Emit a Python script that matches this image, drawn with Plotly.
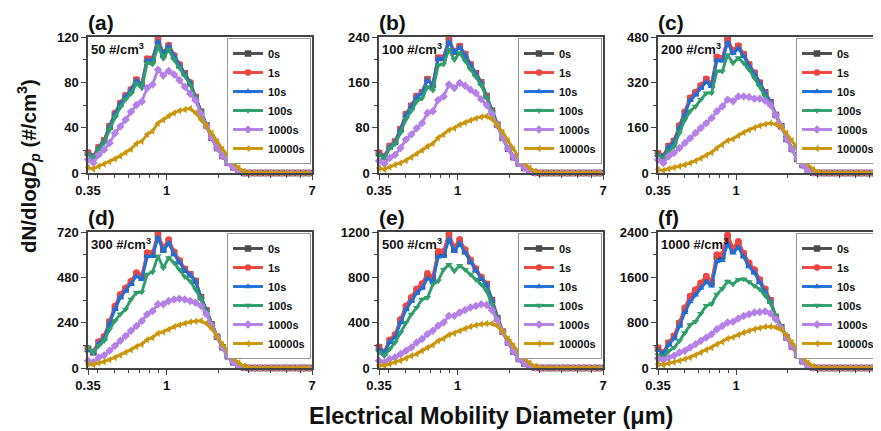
import math
import plotly.graph_objects as go

# ---------------- data ----------------
dp = [0.350, 0.376, 0.404, 0.434, 0.467, 0.502, 0.539, 0.579, 0.622, 0.669, 0.719, 0.772, 0.830, 0.892,
      0.958, 1.030, 1.107, 1.189, 1.278, 1.373, 1.476, 1.586, 1.704, 1.831, 1.968, 2.115, 2.273, 2.442,
      2.625, 2.820, 3.031, 3.257, 3.500, 3.761, 4.042, 4.343, 4.667, 5.015, 5.390, 5.792, 6.224, 6.688]

times = ["0s", "1s", "10s", "100s", "1000s", "10000s"]
panel_labels = ["(a)", "(b)", "(c)", "(d)", "(e)", "(f)"]
conc_labels = ["50 #/cm<sup>3</sup>", "100 #/cm<sup>3</sup>", "200 #/cm<sup>3</sup>",
               "300 #/cm<sup>3</sup>", "500 #/cm<sup>3</sup>", "1000 #/cm<sup>3</sup>"]
y_ticks = [[0, 40, 80, 120], [0, 80, 160, 240], [0, 160, 320, 480],
           [0, 240, 480, 720], [0, 400, 800, 1200], [0, 800, 1600, 2400]]
x_ticks = [0.35, 1, 7]
x_tick_text = ["0.35", "1", "7"]
x_minor = [0.4, 0.5, 0.6, 0.7, 0.8, 0.9, 2, 3, 4, 5, 6]

# panel (a) 50 #/cm3
a_0s = [17.6, 14.5, 22.5, 28.5, 41, 52, 61, 68, 73, 82, 78, 100, 100, 117,
        105, 112, 103, 95, 88, 79, 67, 54, 42, 31, 22, 15, 9, 5,
        1.5, 0, 0, 0, 0, 0, 0, 0, 0, 0, 0, 0, 0, 0]
a_1s = [18, 14.8, 23, 29, 41.5, 53, 62, 68.5, 74, 82.5, 78.5, 101, 101, 118,
        106, 113, 104, 96, 88, 80, 67, 54, 42, 31, 22, 15, 9, 5,
        1.5, 0, 0, 0, 0, 0, 0, 0, 0, 0, 0, 0, 0, 0]
a_10s = [17, 14, 22, 28, 40.5, 52, 61, 67.5, 73, 81.5, 78, 99.5, 100, 116,
         105, 112, 103, 95, 87.5, 79.5, 66.5, 54, 42, 31, 22, 15, 9, 5,
         1.5, 0, 0, 0, 0, 0, 0, 0, 0, 0, 0, 0, 0, 0]
a_100s = [16, 13.5, 21, 26.5, 38, 49, 58, 65, 70, 79, 75, 97, 96, 112,
          101, 109, 100, 93, 86, 78, 66, 54, 42, 31, 22, 15, 9, 5,
          1.5, 0, 0, 0, 0, 0, 0, 0, 0, 0, 0, 0, 0, 0]
a_1000s = [12, 9, 16, 20.5, 26.5, 35, 41, 47, 54, 60, 63, 75, 78, 91,
           86, 90, 87, 82, 76, 70, 64, 52, 41, 31, 22, 15, 9, 5,
           1.5, 0, 0, 0, 0, 0, 0, 0, 0, 0, 0, 0, 0, 0]
a_10000s = [5, 3.5, 6, 8, 10, 12.5, 15, 18, 21, 26, 28, 34, 37, 44,
            47, 50.5, 53, 55, 56, 57, 53, 47, 42, 35, 28, 21, 15, 9,
            4.5, 1.5, 0, 0, 0, 0, 0, 0, 0, 0, 0, 0, 0, 0]

# panel (b) 100 #/cm3
b_0s = [35, 29, 47, 55, 77, 103, 118, 135, 142, 165, 156, 203, 203, 234,
        214, 223, 209, 191, 176, 160, 136, 110, 85, 62, 43, 28, 17, 9,
        3, 0.5, 0, 0, 0, 0, 0, 0, 0, 0, 0, 0, 0, 0]
b_1s = [36, 30, 48, 56, 78, 104, 119, 136, 143, 166, 157, 204, 204, 236,
        215, 224, 210, 192, 176, 160, 136, 110, 85, 62, 43, 28, 17, 9,
        3, 0.5, 0, 0, 0, 0, 0, 0, 0, 0, 0, 0, 0, 0]
b_10s = [34, 28, 46, 54, 76, 102, 117, 134, 141, 164, 155, 202, 202, 232,
         213, 222, 208, 190, 175, 159, 135, 110, 85, 62, 43, 28, 17, 9,
         3, 0.5, 0, 0, 0, 0, 0, 0, 0, 0, 0, 0, 0, 0]
b_100s = [32, 26, 44, 51, 71, 95, 110, 126, 132, 152, 146, 190, 192, 218,
          200, 212, 198, 183, 170, 155, 133, 108, 84, 62, 43, 28, 17, 9,
          3, 0.5, 0, 0, 0, 0, 0, 0, 0, 0, 0, 0, 0, 0]
b_1000s = [21, 16.5, 26.5, 32, 44, 59, 68, 79, 88, 106, 109, 129, 135, 156,
           150, 159, 154, 147, 141, 130, 120, 104, 84, 62, 43, 28, 17, 9,
           3, 0.5, 0, 0, 0, 0, 0, 0, 0, 0, 0, 0, 0, 0]
b_10000s = [9, 6, 10.5, 14.5, 17.5, 22, 28, 34, 40, 47, 52, 62, 68, 76,
            79, 85, 89, 93, 96.5, 99, 100, 95, 84, 72, 57, 42, 28, 17,
            9, 3, 0.5, 0, 0, 0, 0, 0, 0, 0, 0, 0, 0, 0]

# panel (c) 200 #/cm3
c_0s = [68, 59, 94, 112, 165, 212, 262, 282, 306, 329, 312, 406, 402, 468,
        429, 447, 418, 382, 353, 318, 285, 250, 205, 165, 120, 85, 50, 28,
        8, 1, 0, 0, 0, 0, 0, 0, 0, 0, 0, 0, 0, 0]
c_1s = [70, 61, 96, 115, 168, 216, 266, 286, 310, 333, 316, 410, 406, 472,
        433, 450, 420, 384, 354, 319, 285, 250, 205, 165, 120, 85, 50, 28,
        8, 1, 0, 0, 0, 0, 0, 0, 0, 0, 0, 0, 0, 0]
c_10s = [66, 57, 91, 109, 160, 206, 256, 276, 300, 322, 306, 398, 396, 460,
         422, 440, 412, 378, 350, 316, 284, 250, 205, 165, 120, 85, 50, 28,
         8, 1, 0, 0, 0, 0, 0, 0, 0, 0, 0, 0, 0, 0]
c_100s = [65, 53, 76, 94, 141, 188, 218, 235, 259, 282, 282, 359, 359, 417,
          388, 406, 388, 365, 335, 305, 270, 245, 205, 165, 120, 85, 50, 28,
          8, 1, 0, 0, 0, 0, 0, 0, 0, 0, 0, 0, 0, 0]
c_1000s = [47, 35, 59, 71, 88, 106, 123, 141, 159, 176, 194, 218, 235, 259,
           253, 270, 270, 268, 262, 262, 255, 240, 205, 165, 120, 85, 50, 28,
           8, 1, 0, 0, 0, 0, 0, 0, 0, 0, 0, 0, 0, 0]
c_10000s = [12, 9, 15, 19, 24, 29, 35, 43, 52, 63, 72, 88, 100, 115,
            120, 132, 143, 152, 160, 167, 172, 176, 172, 162, 140, 115, 88, 58,
            30, 12, 3, 0, 0, 0, 0, 0, 0, 0, 0, 0, 0, 0]

# panel (d) 300 #/cm3
d_0s = [100, 83, 135, 162, 241, 320, 381, 416, 451, 495, 478, 600, 600, 702,
        627, 671, 609, 565, 521, 495, 460, 375, 305, 230, 165, 110, 62, 30,
        10, 2, 0, 0, 0, 0, 0, 0, 0, 0, 0, 0, 0, 0]
d_1s = [104, 86, 140, 168, 248, 328, 390, 425, 460, 505, 488, 612, 610, 712,
        636, 680, 616, 570, 525, 498, 462, 375, 305, 230, 165, 110, 62, 30,
        10, 2, 0, 0, 0, 0, 0, 0, 0, 0, 0, 0, 0, 0]
d_10s = [96, 80, 130, 157, 234, 312, 372, 408, 443, 486, 470, 590, 592, 690,
         620, 662, 602, 560, 517, 492, 458, 374, 305, 230, 165, 110, 62, 30,
         10, 2, 0, 0, 0, 0, 0, 0, 0, 0, 0, 0, 0, 0]
d_100s = [109, 83, 118, 144, 205, 250, 285, 311, 363, 399, 402, 495, 508, 592,
          530, 583, 557, 521, 483, 460, 416, 364, 300, 228, 165, 110, 62, 30,
          10, 2, 0, 0, 0, 0, 0, 0, 0, 0, 0, 0, 0, 0]
d_1000s = [39, 30, 56, 68, 91, 118, 144, 170, 197, 223, 249, 284, 302, 337,
           337, 355, 363, 367, 363, 355, 345, 330, 285, 225, 165, 110, 62, 30,
           10, 2, 0, 0, 0, 0, 0, 0, 0, 0, 0, 0, 0, 0]
d_10000s = [21, 17.6, 26, 33, 44, 56, 68, 83, 97, 114, 126, 149, 162, 184,
            191, 205, 218, 228, 237, 244, 248, 250, 235, 208, 165, 125, 85, 50,
            28, 10, 2, 0, 0, 0, 0, 0, 0, 0, 0, 0, 0, 0]

# panel (e) 500 #/cm3
e_0s = [181, 138, 240, 284, 416, 533, 606, 679, 723, 811, 781, 1001, 1001, 1162,
        1045, 1118, 1030, 942, 869, 796, 740, 600, 440, 320, 225, 145, 80, 40,
        15, 3, 0, 0, 0, 0, 0, 0, 0, 0, 0, 0, 0, 0]
e_1s = [188, 144, 250, 296, 430, 550, 625, 700, 745, 835, 805, 1030, 1030, 1185,
        1065, 1135, 1045, 955, 878, 802, 744, 600, 440, 320, 225, 145, 80, 40,
        15, 3, 0, 0, 0, 0, 0, 0, 0, 0, 0, 0, 0, 0]
e_10s = [172, 132, 230, 272, 400, 515, 588, 660, 705, 790, 765, 980, 985, 1135,
         1030, 1100, 1018, 935, 862, 790, 735, 598, 440, 320, 225, 145, 80, 40,
         15, 3, 0, 0, 0, 0, 0, 0, 0, 0, 0, 0, 0, 0]
e_100s = [138, 108, 167, 225, 313, 401, 474, 533, 606, 620, 738, 767, 869, 913,
          855, 904, 869, 825, 781, 738, 679, 560, 430, 320, 225, 145, 80, 40,
          15, 3, 0, 0, 0, 0, 0, 0, 0, 0, 0, 0, 0, 0]
e_1000s = [64, 50, 79, 94, 123, 152, 181, 225, 255, 299, 328, 372, 401, 460,
           460, 489, 512, 533, 547, 562, 555, 510, 420, 320, 225, 145, 80, 40,
           15, 3, 0, 0, 0, 0, 0, 0, 0, 0, 0, 0, 0, 0]
e_10000s = [26, 20, 35, 50, 64, 85, 108, 123, 152, 181, 202, 240, 260, 293,
            307, 328, 348, 366, 378, 386, 392, 392, 370, 320, 255, 195, 135, 85,
            45, 15, 3, 0, 0, 0, 0, 0, 0, 0, 0, 0, 0, 0]

# panel (f) 1000 #/cm3
f_0s = [350, 265, 440, 555, 785, 1040, 1240, 1360, 1480, 1590, 1510, 1960, 1970, 2310,
        2080, 2200, 2000, 1830, 1710, 1540, 1380, 1190, 900, 720, 540, 380, 230, 120,
        40, 5, 0, 0, 0, 0, 0, 0, 0, 0, 0, 0, 0, 0]
f_1s = [363, 275, 451, 568, 802, 1065, 1270, 1387, 1504, 1622, 1534, 2002, 2002, 2353,
        2119, 2236, 2031, 1856, 1739, 1563, 1400, 1200, 905, 720, 540, 380, 230, 120,
        40, 5, 0, 0, 0, 0, 0, 0, 0, 0, 0, 0, 0, 0]
f_10s = [320, 250, 410, 520, 740, 980, 1170, 1290, 1410, 1520, 1450, 1880, 1900, 2190,
         2030, 2130, 1960, 1790, 1680, 1510, 1350, 1170, 890, 715, 540, 380, 230, 120,
         40, 5, 0, 0, 0, 0, 0, 0, 0, 0, 0, 0, 0, 0]
f_100s = [230, 200, 300, 360, 480, 620, 760, 820, 960, 1100, 1130, 1300, 1400, 1530,
          1480, 1560, 1570, 1520, 1450, 1390, 1280, 1150, 920, 740, 540, 380, 230, 120,
          40, 5, 0, 0, 0, 0, 0, 0, 0, 0, 0, 0, 0, 0]
f_1000s = [170, 140, 187, 217, 275, 304, 363, 421, 480, 539, 597, 685, 743, 802,
           814, 872, 919, 948, 978, 989, 1000, 960, 860, 700, 540, 380, 230, 120,
           40, 5, 0, 0, 0, 0, 0, 0, 0, 0, 0, 0, 0, 0]
f_10000s = [70, 53, 82, 100, 129, 158, 187, 228, 275, 322, 363, 421, 462, 521,
            544, 585, 626, 656, 685, 708, 726, 732, 720, 680, 580, 450, 310, 190,
            90, 30, 6, 0, 0, 0, 0, 0, 0, 0, 0, 0, 0, 0]

panel_series = [
    [a_0s, a_1s, a_10s, a_100s, a_1000s, a_10000s],
    [b_0s, b_1s, b_10s, b_100s, b_1000s, b_10000s],
    [c_0s, c_1s, c_10s, c_100s, c_1000s, c_10000s],
    [d_0s, d_1s, d_10s, d_100s, d_1000s, d_10000s],
    [e_0s, e_1s, e_10s, e_100s, e_1000s, e_10000s],
    [f_0s, f_1s, f_10s, f_100s, f_1000s, f_10000s],
]
for ser in panel_series:
    for s in ser:
        assert len(s) == len(dp), len(s)

# ---------------- styles ----------------
colors = ["#4b4b4b", "#f0463f", "#1f6fd8", "#2f9e6b", "#b481e6", "#c9970d"]
symbols = ["square", "circle", "triangle-up", "triangle-down", "diamond", "triangle-left"]
FONT = "Arial, Liberation Sans, sans-serif"

# the page body has an 8 px margin, so the figure is 8 px smaller and shifted
OFF = 8
W, H = 881 - OFF, 431 - OFF
col_left = [88 - OFF, 379 - OFF, 658 - OFF]
col_w = 224
row_top = [37 - OFF, 232 - OFF]
row_h = 136

fig = go.Figure()
layout_axes = {}
annotations = []
for p in range(6):
    r, c = divmod(p, 3)
    idx = p + 1
    xa = "x" if idx == 1 else f"x{idx}"
    ya = "y" if idx == 1 else f"y{idx}"
    leg = "legend" if idx == 1 else f"legend{idx}"
    x0 = col_left[c] / W
    x1 = min((col_left[c] + col_w) / W, 1.0)
    y1 = 1 - row_top[r] / H
    y0 = 1 - (row_top[r] + row_h) / H
    for k, t in enumerate(times):
        fig.add_trace(go.Scatter(
            x=dp, y=panel_series[p][k], name=t, mode="lines+markers",
            xaxis=xa, yaxis=ya, legend=leg, cliponaxis=False,
            line=dict(color=colors[k], width=2.9),
            marker=dict(symbol=symbols[k], size=6.5, color=colors[k]),
        ))
    yt = y_ticks[p]
    layout_axes["xaxis" if idx == 1 else f"xaxis{idx}"] = dict(
        domain=[x0, x1], anchor=ya, type="log",
        range=[math.log10(0.35), math.log10(7)],
        tickmode="array", tickvals=x_ticks, ticktext=x_tick_text,
        ticks="outside", ticklen=5, tickwidth=1.3, tickcolor="#444",
        minor=dict(tickmode="array", tickvals=x_minor, ticks="outside", ticklen=3,
                   tickwidth=1.1, tickcolor="#444"),
        showline=True, mirror=True, linecolor="#444", linewidth=1.5,
        showgrid=False, zeroline=False, automargin=False,
        tickfont=dict(family=FONT, size=13, color="#111", weight="bold"),
    )
    layout_axes["yaxis" if idx == 1 else f"yaxis{idx}"] = dict(
        domain=[y0, y1], anchor=xa, range=[0, yt[-1]],
        tickmode="array", tickvals=yt, ticktext=[str(v) for v in yt],
        ticks="outside", ticklen=5, tickwidth=1.3, tickcolor="#444",
        minor=dict(dtick=(yt[1] - yt[0]) / 2, ticks="outside", ticklen=3,
                   tickwidth=1.1, tickcolor="#444"),
        showline=True, mirror=True, linecolor="#444", linewidth=1.5,
        showgrid=False, zeroline=False, automargin=False,
        tickfont=dict(family=FONT, size=13, color="#111", weight="bold"),
    )
    layout_axes[leg] = dict(
        x=x1 - 1 / W, y=y1 - 1 / H, xanchor="right", yanchor="top",
        xref="paper", yref="paper",
        bgcolor="white", bordercolor="#999", borderwidth=1,
        font=dict(family=FONT, size=11, color="#111", weight="bold"),
        itemwidth=30, tracegroupgap=0,
    )
    annotations.append(dict(
        text=f"<b>{panel_labels[p]}</b>", x=x0 - 2 / W, y=y1 + 1 / H,
        xref="paper", yref="paper", xanchor="left", yanchor="bottom",
        showarrow=False, font=dict(family=FONT, size=21, color="#111"),
    ))
    annotations.append(dict(
        text=f"<b>{conc_labels[p]}</b>", x=x0 + 1 / W, y=y1 - 2 / H,
        xref="paper", yref="paper", xanchor="left", yanchor="top",
        showarrow=False, font=dict(family=FONT, size=13, color="#111"),
    ))

annotations.append(dict(
    text="<b>dN/dlog<i>D</i><sub><i>p</i></sub> (#/cm<sup>3</sup>)</b>",
    x=(28 - OFF) / W, y=1 - (166 - OFF) / H, xref="paper", yref="paper",
    xanchor="center", yanchor="middle", textangle=-90, showarrow=False,
    font=dict(family=FONT, size=20.5, color="#111"),
))
annotations.append(dict(
    text="<b>Electrical Mobility Diameter (μm)</b>",
    x=(491 - OFF) / W, y=1 - (416 - OFF) / H, xref="paper", yref="paper",
    xanchor="center", yanchor="middle", showarrow=False,
    font=dict(family=FONT, size=23.5, color="#111"),
))

fig.update_layout(
    width=W, height=H, margin=dict(l=0, r=0, t=0, b=0, autoexpand=False),
    paper_bgcolor="white", plot_bgcolor="white",
    font=dict(family=FONT, color="#111"),
    annotations=annotations,
    **layout_axes,
)
fig.write_html("out.html")
